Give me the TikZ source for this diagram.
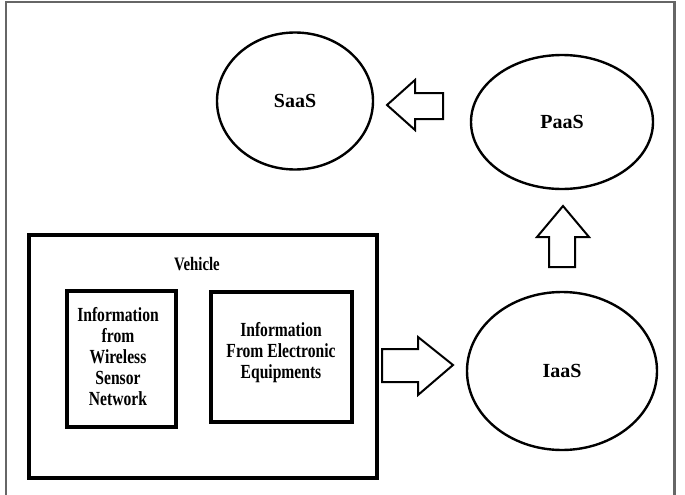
\documentclass[tikz,border=0pt]{standalone}
\usepackage{fontspec}
\setmainfont{Liberation Serif}
\newfontfamily\narrowfont{Liberation Serif}[FakeStretch=0.78]
\usetikzlibrary{shapes.geometric}
\begin{document}
\begin{tikzpicture}[x=1pt,y=-1pt,
  frame/.style={draw=black!60, line width=2.5pt},
  cloudnode/.style={ellipse, draw, line width=2.4pt, inner sep=0pt,
     font=\fontsize{20}{22}\selectfont\bfseries},
  outerbox/.style={draw, line width=4pt},
  innerbox/.style={draw, line width=3.5pt},
  boxtext/.style={align=center, inner sep=0pt,
     font=\narrowfont\fontsize{20}{21}\selectfont\bfseries},
  blockarrow/.style={draw, line width=2pt, fill=white, line join=miter}
]
\useasboundingbox (0,0) rectangle (685,495);
% outer frame (no bottom edge visible)
\draw[frame] (6,495) -- (6,2) -- (674.5,2) -- (674.5,495);

% ellipses
\node[cloudnode, minimum width=156pt, minimum height=137pt] (saas) at (295,101) {SaaS};
\node[cloudnode, minimum width=182pt, minimum height=134pt] (paas) at (562,122) {PaaS};
\node[cloudnode, minimum width=190pt, minimum height=158pt] (iaas) at (562,371) {IaaS};

% vehicle box
\draw[outerbox] (29,235) rectangle (377,478);
\node[boxtext, font=\narrowfont\fontsize{19}{21}\selectfont\bfseries] (veh) at (197,264) {Vehicle};
\draw[innerbox] (67,291) rectangle (176,427);
\node[boxtext] (wsn) at (118,357) {Information\\from\\Wireless\\Sensor\\Network};
\draw[innerbox] (211,292) rectangle (352,422);
\node[boxtext] (elec) at (281,353) {Information\\From Electronic\\Equipments};

% block arrows
\coordinate (la) at (387,105);
\draw[blockarrow] (la) -- (415,80) -- (415,93) -- (443,93) -- (443,119) -- (415,119) -- (415,130) -- cycle;
\coordinate (ua) at (563,206);
\draw[blockarrow] (ua) -- (589,237) -- (575,237) -- (575,267) -- (549,267) -- (549,237) -- (537,237) -- cycle;
\coordinate (ra) at (453,365);
\draw[blockarrow] (ra) -- (418,395) -- (418,382) -- (382,382) -- (382,349) -- (418,349) -- (418,337) -- cycle;
\end{tikzpicture}
\end{document}
